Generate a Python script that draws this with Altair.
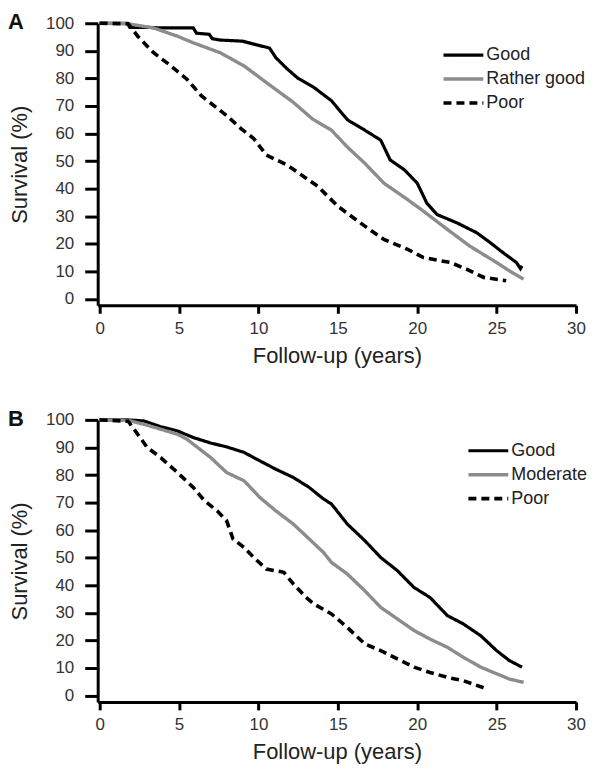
import altair as alt
import pandas as pd

# ---------------- Panel A data ----------------
a_good_t = [0, 1.75, 1.9, 3.0, 4.0, 5.0, 5.9, 6.1, 6.9, 7.1, 7.6, 9.0, 10.0, 10.7, 11.1, 11.8, 12.5,
            13.5, 14.6, 15.6, 16.7, 17.7, 18.3, 19.2, 20.0, 20.6, 21.25, 22.5, 23.75, 24.6, 25.4, 26.25, 26.5, 26.6]
a_good_s = [100, 100, 98.5, 98.5, 98.3, 98.3, 98.3, 96.4, 96.0, 94.4, 93.9, 93.5, 92.0, 91.0, 87.5, 83.5, 80.0,
            76.7, 71.9, 65.0, 61.2, 57.6, 50.4, 46.8, 42.0, 34.8, 30.6, 27.6, 24.0, 20.4, 16.8, 13.2, 11.0, 12.0]

a_rg_t = [0, 1.8, 3.4, 4.9, 5.9, 7.6, 9.1, 10.5, 12.2, 13.4, 14.6, 15.6, 16.7, 17.9, 19.4, 20.4,
          21.9, 23.3, 25.0, 25.8, 26.7]
a_rg_s = [100, 99.8, 98.3, 95.3, 92.9, 89.3, 84.5, 78.5, 71.3, 65.3, 61.2, 55.1, 49.2, 42.0, 36.0, 31.8,
          25.2, 19.2, 13.2, 10.2, 7.2]

a_poor_t = [0, 1.8, 2.4, 3.4, 4.5, 5.5, 6.4, 7.2, 8.0, 8.9, 9.7, 10.5, 11.8, 13.0, 13.75, 15.0, 16.7,
            17.9, 19.4, 20.4, 22.1, 23.1, 24.2, 25.6]
a_poor_s = [100, 99.8, 95.3, 89.3, 84.5, 79.7, 73.7, 70.1, 66.5, 61.8, 58.2, 52.2, 48.6, 43.8, 40.8, 33.6, 26.4,
            21.6, 18.0, 15.0, 13.2, 10.8, 7.8, 6.6]

# ---------------- Panel B data ----------------
b_good_t = [0, 1.8, 2.8, 3.85, 4.9, 5.9, 7.0, 8.0, 9.1, 10.1, 11.1, 12.2, 13.2, 14.1, 14.6, 15.6, 16.7,
            17.7, 18.75, 19.8, 20.8, 21.9, 22.9, 24.0, 25.0, 25.8, 26.6]
b_good_s = [100, 100, 99.6, 97.5, 96.0, 93.6, 91.6, 90.2, 88.2, 85.1, 82.1, 79.1, 75.5, 71.3, 69.5, 62.2, 56.2,
            50.1, 45.3, 39.2, 35.6, 29.0, 26.0, 21.7, 16.3, 12.7, 10.3]

b_mod_t = [0, 1.8, 2.8, 3.85, 4.9, 5.5, 5.9, 7.0, 8.0, 9.1, 10.1, 11.1, 12.2, 13.2, 14.1, 14.6, 15.6,
           16.7, 17.7, 18.75, 19.8, 20.8, 21.9, 22.9, 24.0, 25.0, 25.8, 26.7]
b_mod_s = [100, 99.8, 98.4, 96.6, 94.8, 93.0, 91.2, 86.3, 80.9, 77.9, 71.8, 67.0, 62.2, 56.8, 51.9, 48.3, 44.1,
           38.0, 32.0, 27.8, 23.6, 20.5, 17.5, 13.9, 10.3, 7.9, 6.0, 4.8]

b_poor_t = [0, 1.8, 2.4, 3.0, 3.85, 4.9, 5.9, 6.6, 7.4, 8.0, 8.4, 9.1, 9.7, 10.5, 11.6, 12.2, 13.0,
            13.5, 14.6, 15.6, 16.7, 17.7, 18.75, 19.8, 20.8, 21.9, 22.9, 24.2]
b_poor_s = [100, 99.5, 94.8, 90.0, 86.3, 80.9, 75.5, 70.7, 67.0, 63.4, 56.8, 53.7, 50.1, 45.9, 44.7, 40.5, 35.6,
            33.2, 29.6, 24.7, 18.7, 16.3, 13.3, 10.3, 8.4, 6.6, 5.4, 2.8]

x_ticks = [0, 5, 10, 15, 20, 25, 30]
y_ticks = [0, 10, 20, 30, 40, 50, 60, 70, 80, 90, 100]

FONT = "Liberation Sans"
LINE_SYMBOL = "M-2,0H2"


def frame(series):
    rows = []
    for name, ts, ss in series:
        for t, s in zip(ts, ss):
            rows.append({"series": name, "t": t, "s": s})
    return pd.DataFrame(rows)


def legend(legend_x, legend_y, row_pad):
    return alt.Legend(title=None, orient="none", legendX=legend_x, legendY=legend_y,
                      symbolType=LINE_SYMBOL, symbolSize=400, symbolStrokeWidth=3,
                      labelFontSize=18, labelFont=FONT, labelColor="#222222",
                      labelOffset=11, rowPadding=row_pad)


def panel(letter, series, legend_x, legend_y, row_pad):
    names = [n for n, _, _ in series]
    df = frame(series)
    lines = alt.Chart(df).mark_line(strokeJoin="miter").encode(
        x=alt.X("t:Q",
                scale=alt.Scale(domain=[-0.12, 30], nice=False, zero=False),
                axis=alt.Axis(values=x_ticks, title="Follow-up (years)", tickSize=8,
                              labelPadding=7, titlePadding=9, labelFlush=False)),
        y=alt.Y("s:Q",
                scale=alt.Scale(domain=[-2.3, 100], nice=False, zero=False),
                axis=alt.Axis(values=y_ticks, title="Survival (%)", tickSize=13,
                              labelPadding=11, titlePadding=14, labelFlush=False)),
        color=alt.Color("series:N",
                        scale=alt.Scale(domain=names, range=["#000000", "#8c8c8c", "#000000"]),
                        legend=legend(legend_x, legend_y, row_pad)),
        strokeDash=alt.StrokeDash("series:N",
                                  scale=alt.Scale(domain=names, range=[[1, 0], [1, 0], [8, 5]]),
                                  legend=legend(legend_x, legend_y, row_pad)),
        strokeWidth=alt.StrokeWidth("series:N",
                                    scale=alt.Scale(domain=names, range=[3.2, 3.6, 2.6]),
                                    legend=None),
        order=alt.Order("t:Q"),
    )
    label = alt.Chart(pd.DataFrame({"label": [letter]})).mark_text(
        align="left", baseline="alphabetic", fontSize=22, fontWeight="bold", font=FONT, color="#111111"
    ).encode(text="label:N", x=alt.value(-90), y=alt.value(6))
    return alt.layer(lines, label).properties(width=480, height=283)


panel_a = panel("A", [("Good", a_good_t, a_good_s),
                      ("Rather good", a_rg_t, a_rg_s),
                      ("Poor", a_poor_t, a_poor_s)], 355, 20, 3)
panel_b = panel("B", [("Good", b_good_t, b_good_s),
                      ("Moderate", b_mod_t, b_mod_s),
                      ("Poor", b_poor_t, b_poor_s)], 380, 19, 3)

chart = alt.vconcat(panel_a, panel_b, spacing=42).resolve_scale(
    color="independent", strokeDash="independent", strokeWidth="independent"
).properties(
    padding={"left": 0, "top": 2, "right": 0, "bottom": 0}
).configure_view(stroke=None).configure_axis(
    grid=False, domainColor="#000000", domainWidth=3, tickColor="#000000", tickWidth=3,
    labelFont=FONT, labelFontSize=17, labelColor="#333333",
    titleFont=FONT, titleFontSize=22, titleFontWeight="normal", titleColor="#222222",
)

chart.save("out.html", embed_options={"renderer": "svg", "actions": False})
